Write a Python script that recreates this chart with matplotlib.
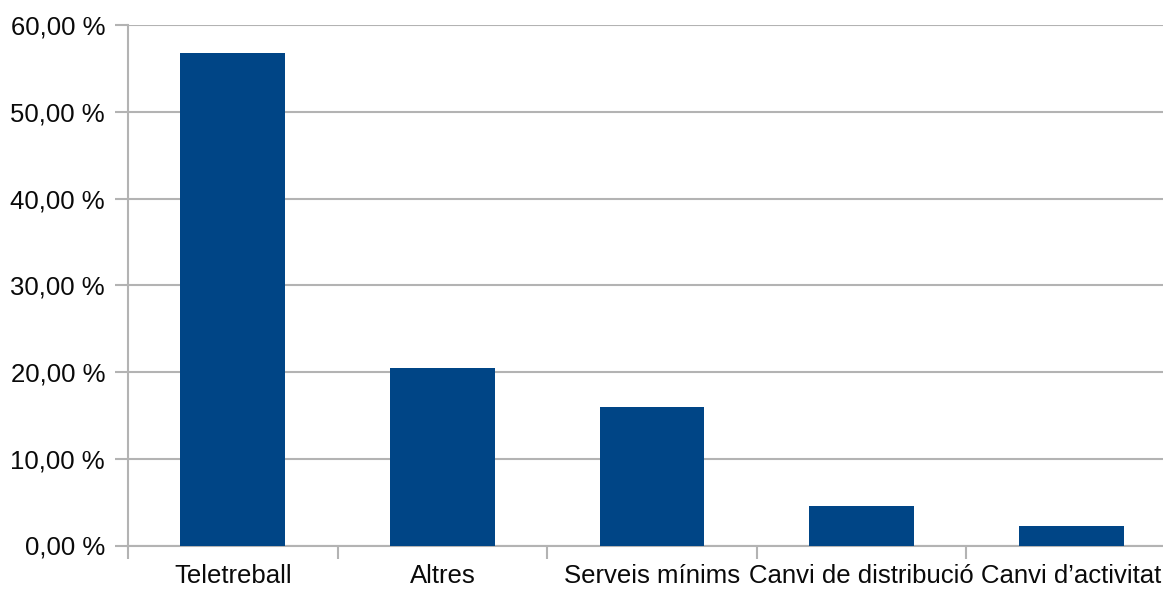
import matplotlib.pyplot as plt
import numpy as np
from matplotlib.ticker import FuncFormatter, FixedLocator

categories = ["Teletreball", "Altres", "Serveis mínims", "Canvi de distribució", "Canvi d’activitat"]
values = [56.82, 20.45, 15.91, 4.55, 2.27]
yticks = [0, 10, 20, 30, 40, 50, 60]

plt.rcParams['font.family'] = ['Liberation Sans', 'DejaVu Sans']

W, H = 1163, 589
fig = plt.figure(figsize=(W / 100, H / 100), dpi=100)
ax = fig.add_axes([128 / W, (H - 545.5) / H, (1176 - 128) / W, (545.5 - 25) / H])

grid_c = '#b3b3b3'
x = np.arange(len(categories))
ax.bar(x, values, width=0.5, color='#004586', zorder=3)

ax.set_xlim(-0.5, len(categories) - 0.5)
ax.set_ylim(0, 60)
ax.set_yticks(yticks)
ax.yaxis.set_major_formatter(FuncFormatter(lambda v, p: f"{v:.2f}".replace('.', ',') + " %"))
ax.yaxis.grid(True, color=grid_c, linewidth=1.5, zorder=0)

ax.set_xticks(x)
ax.set_xticklabels(categories)
ax.xaxis.set_minor_locator(FixedLocator(np.arange(-0.5, len(categories), 1.0)))
ax.tick_params(axis='x', which='major', length=0, pad=13.5, labelsize=18.5, labelcolor='#0a0a0a')
ax.tick_params(axis='x', which='minor', length=9, width=1.5, color=grid_c)
ax.tick_params(axis='y', length=9.5, width=1.5, color=grid_c, pad=7, labelsize=18.5, labelcolor='#0a0a0a')

for s in ['top', 'right']:
    ax.spines[s].set_visible(False)
for s in ['left', 'bottom']:
    ax.spines[s].set_color(grid_c)
    ax.spines[s].set_linewidth(1.5)

fig.savefig('out.png', dpi=100)
